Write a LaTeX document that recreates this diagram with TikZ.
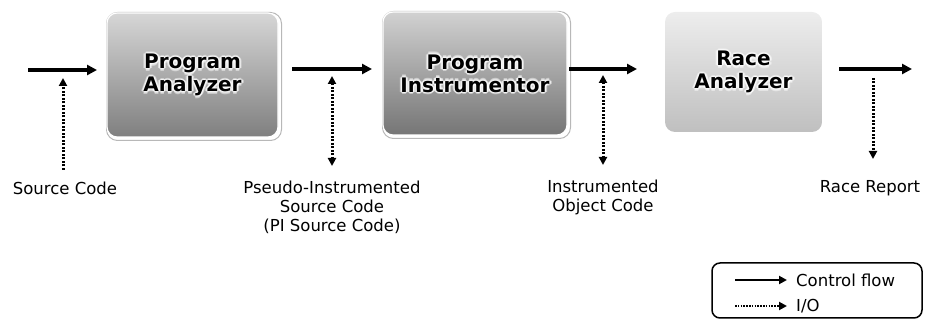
\documentclass[tikz,border=0pt]{standalone}
\usepackage{fontspec}
\setmainfont{DejaVu Sans}
\usetikzlibrary{arrows.meta}

\definecolor{paTop}{gray}{0.84}
\definecolor{paBot}{gray}{0.50}
\definecolor{piTop}{gray}{0.82}
\definecolor{piBot}{gray}{0.46}
\definecolor{raTop}{gray}{0.93}
\definecolor{raBot}{gray}{0.75}
\definecolor{rimgray}{gray}{0.72}

\tikzset{
  iotip/.tip={Triangle[length=8pt,width=8pt]},
  stage/.style={rounded corners=10pt, inner sep=0pt, draw=white, line width=1.2pt},
  stagerim/.style={rounded corners=11pt, draw=rimgray, line width=1pt},
  title/.style={font=\fontsize{20}{23}\selectfont\bfseries, align=center, inner sep=0pt},
  label/.style={font=\fontsize{16.5}{19}\selectfont, align=center, inner sep=0pt},
  flow/.style={line width=3.3pt, -{Triangle[length=10pt,width=10pt]}},
  io/.style={line width=3pt, dash pattern=on 2pt off 1.5pt},
  legendbox/.style={draw, line width=1.5pt, rounded corners=8pt},
  legflow/.style={line width=2.6pt, -{Triangle[length=8pt,width=8pt]}},
  legio/.style={line width=2.2pt, dash pattern=on 1.5pt off 1.3pt, -{Triangle[length=8pt,width=8pt]}},
}

% bold title with a soft white halo behind it
\newcommand\glowtitle[3]{%
  \foreach \dx/\dy [count=\k] in {1.6/0,-1.6/0,0/1.6,0/-1.6,1.1/1.1,-1.1/1.1,1.1/-1.1,-1.1/-1.1,2.4/0,-2.4/0,0/2.4,0/-2.4}
    \node[title, text=white, opacity=0.45] (#1-g\k) at ([shift={(\dx pt,\dy pt)}]#2) {#3};
  \node[title] (#1) at (#2) {#3};}

\begin{document}
\begin{tikzpicture}[x=1pt, y=-1pt]
  \useasboundingbox (0,0) rectangle (930,320);

  % ---- processing stages ----
  \node[stagerim, minimum width=175pt, minimum height=128pt] (pa-rim) at (194,76.5) {};
  \node[stage, minimum width=171pt, minimum height=124pt, top color=paTop, bottom color=paBot] (pa) at (192.5,75) {};
  \glowtitle{pa-t}{pa.center}{Program\\Analyzer}

  \node[stagerim, minimum width=188pt, minimum height=127pt] (pi-rim) at (476.5,75) {};
  \node[stage, minimum width=184pt, minimum height=123pt, top color=piTop, bottom color=piBot] (pi) at (475,73.5) {};
  \glowtitle{pi-t}{pi.center}{Program\\Instrumentor}

  \node[stage, draw=none, minimum width=157pt, minimum height=120pt, top color=raTop, bottom color=raBot] (ra) at (743.5,72) {};
  \glowtitle{ra-t}{ra.center}{Race\\Analyzer}

  % ---- control-flow arrow end points ----
  \coordinate (f1s) at (28,70);   \coordinate (f1e) at (97,70);
  \coordinate (f2s) at (292,69);  \coordinate (f2e) at (372,69);
  \coordinate (f3s) at (569,69);  \coordinate (f3e) at (637,69);
  \coordinate (f4s) at (839,69);  \coordinate (f4e) at (912,69);

  \draw[flow] (f1s) -- (f1e);
  \draw[flow] (f2s) -- (f2e);
  \draw[flow] (f3s) -- (f3e);
  \draw[flow] (f4s) -- (f4e);

  % ---- data labels ----
  \node[label] (src) at (65,188) {Source Code};
  \node[label] (pisrc) at (332,207) {Pseudo-Instrumented\\Source Code\\(PI Source Code)};
  \node[label] (obj) at (603,197.5) {Instrumented\\Object Code};
  \node[label] (rep) at (870,188) {Race Report};

  % ---- I/O arrows ----
  \coordinate (d1a) at (63,78);   \coordinate (d1b) at (63,170);
  \coordinate (d2a) at (332,76);  \coordinate (d2b) at (332,166);
  \coordinate (d3a) at (603,75);  \coordinate (d3b) at (603,165);
  \coordinate (d4a) at (873,78);  \coordinate (d4b) at (873,159);

  \draw[io, -iotip] (d1b) -- (d1a);
  \draw[io, iotip-iotip] (d2a) -- (d2b);
  \draw[io, iotip-iotip] (d3a) -- (d3b);
  \draw[io, -iotip] (d4a) -- (d4b);

  % ---- legend ----
  \node[legendbox, minimum width=210pt, minimum height=55pt] (legend) at (817,290.5) {};
  \coordinate (l1s) at (735,280); \coordinate (l1e) at (787,280);
  \coordinate (l2s) at (735,306); \coordinate (l2e) at (787,306);
  \draw[legflow] (l1s) -- (l1e);
  \draw[legio] (l2s) -- (l2e);
  \node[label, anchor=west] (lt1) at (796,280) {Control flow};
  \node[label, anchor=west] (lt2) at (796,306) {I/O};
\end{tikzpicture}
\end{document}
